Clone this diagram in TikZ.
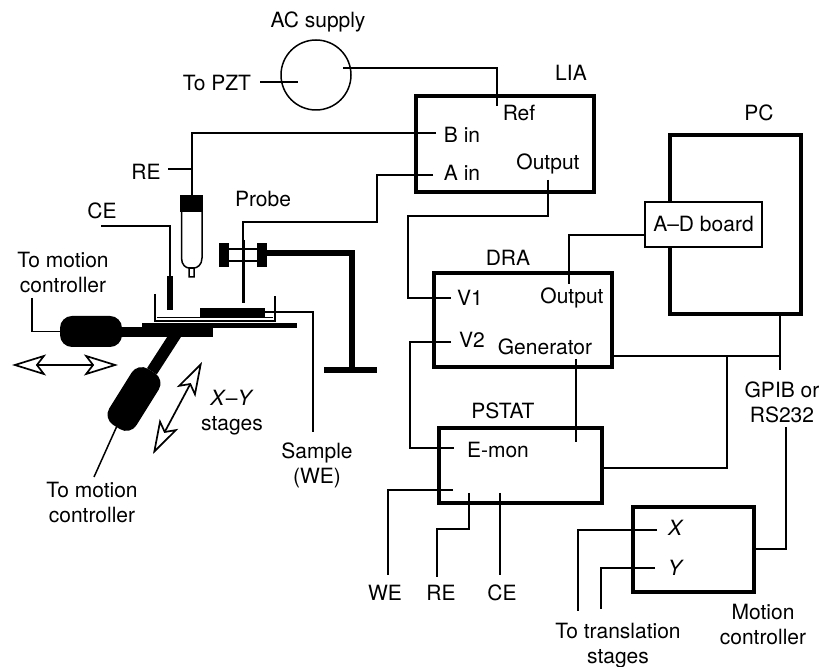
\documentclass[tikz,border=0pt]{standalone}
\usepackage{fontspec}
\setmainfont{TeX Gyre Heros}
\usetikzlibrary{arrows.meta}
\tikzset{
  lab/.style={inner sep=0pt,align=center,font=\fontsize{10.5}{12.5}\selectfont},
  unitbox/.style={draw,line width=2pt,inner sep=0pt,outer sep=0pt},
  wire/.style={line width=0.75pt},
  blk/.style={fill=black,inner sep=0pt,outer sep=0pt},
  motor/.style={blk,rounded corners=6pt,minimum width=31pt,minimum height=15.5pt},
  dblarrow/.style={line width=0.85pt,{Stealth[fill=white,length=17pt,width=10.5pt,inset=4pt]}-{Stealth[fill=white,length=17pt,width=10.5pt,inset=4pt]}},
}
\begin{document}
\begin{tikzpicture}[x=0.5pt,y=-0.5pt]
  \useasboundingbox (0,0) rectangle (821,667);
  % instrument boxes
  \node[unitbox,minimum width=89pt,minimum height=48pt] (lia) at (505,144) {};
  \node[unitbox,minimum width=65.5pt,minimum height=89.5pt] (pc) at (735.5,224.5) {};
  \node[unitbox,minimum width=89pt,minimum height=47pt] (dra) at (523,320) {};
  \node[unitbox,minimum width=81.5pt,minimum height=37.5pt] (pstat) at (520.5,465.5) {};
  \node[unitbox,minimum width=60.5pt,minimum height=42.5pt] (mc) at (693.5,549.5) {};
  \node[draw,wire,fill=white,lab,outer sep=0pt,minimum width=58.5pt,minimum height=22.5pt] (adboard) at (703.5,224.5) {A--D board};
  \node[draw,wire,circle,inner sep=0pt,outer sep=0pt,minimum size=35pt] (ac) at (316,75) {};
  % ports and free ends
  \foreach \n/\x/\y in {acout/343/68,refin/497/106,pztin/298/82,pztend/260/82,
      bin/436/133,bknee/192/133,rejoin/192/169,restub/168/169,
      ain/433/175,probetop/243/240,probetip/243/303,
      liaout/548/180,v1in/451/298,adin/645/235,adout/569/284,v2in/451/342,emon/454/448,
      genin/576/442,genout/576/359,drabus/612/356,busjoin/727/356,pcbus/780/356,pcend/780/370,
      pstatbus/602/468,rsend/786/427,mcbus/754/549,weport/453/490,weend/388/575,
      report/469/493,reend/437/577,ceport/500/493,ceend/500/575,
      xport/657/530,xend/578/611,yport/655/568,yend/601/609,
      cestart/101/226,ceknee/170/276,mwa/32/298,mwb/94/477,sampout/265/312,
      sampend/313/432,xla/12/365,xlb/118/365,yla/202/362,ylb/153/454,
      capbot/192/195,barstart/267/253,barend/352/370}
    \coordinate (\n) at (\x,\y);
  % wiring of the instruments
  \draw[wire] (pztend) -- (pztin);
  \draw[wire] (acout) -| (refin);
  \draw[wire] (bin) -- (bknee) -- (capbot);
  \draw[wire] (restub) -- (rejoin);
  \draw[wire] (ain) -- (377,175) -- (377,222) -- (243,222) -- (probetop);
  \draw[wire] (liaout) -- (548,216) -- (408,216) -- (408,298) -- (v1in);
  \draw[wire] (adin) -| (adout);
  \draw[wire] (v2in) -- (410,342) -- (410,448) -- (emon);
  \draw[wire] (genout) -- (genin);
  \draw[wire] (drabus) -- (pcbus);
  \draw[wire] (pc.south -| pcbus) -- (pcend);
  \draw[wire] (busjoin) |- (pstatbus);
  \draw[wire] (rsend) |- (mcbus);
  \draw[wire] (weport) -- (388,490) -- (weend);
  \draw[wire] (report) -- (469,529) -- (437,529) -- (reend);
  \draw[wire] (ceport) -- (ceend);
  \draw[wire] (xport) -- (578,530) -- (xend);
  \draw[wire] (yport) -- (601,568) -- (yend);
  % reference electrode
  \node[blk,minimum width=11.5pt,minimum height=8.5pt] (recap) at (191.5,203.5) {};
  \draw[wire] (181.5,212) -- (181.5,258) .. controls (181.5,265) and (186,268) .. (189,268)
    -- (189,277) -- (194,277) -- (194,268) .. controls (197,268) and (202,265) .. (202,258) -- (202,212);
  \draw[wire] (189,268) -- (194,268);
  % counter electrode
  \draw[wire] (cestart) -- (170,226) -- (ceknee);
  \node[blk,minimum width=2.8pt,minimum height=17pt] (cerod) at (170,293) {};
  % cell, sample and stages
  \draw[line width=1.3pt] (155,294) -- (155,321) -- (275,321) -- (275,296);
  \draw[line width=0.5pt] (157,318) -- (273,318);
  \node[blk,minimum width=32.5pt,minimum height=4.5pt] (sample) at (232.5,312.5) {};
  \draw[wire] (sampout) -- (313,312) -- (sampend);
  \node[blk,minimum width=77.5pt,minimum height=2.8pt] (plateup) at (219.5,325.5) {};
  \node[blk,minimum width=46.5pt,minimum height=5pt] (platelow) at (166.5,332) {};
  \node[motor] (motora) at (91,331.5) {};
  \node[motor,rotate=58,minimum height=16pt,minimum width=33pt] (motorb) at (134,399) {};
  \draw[line width=5.5pt] (motora.east) -- (platelow.west);
  \draw[line width=5.8pt] (176,334) -- (motorb);
  \draw[wire] (mwa) |- (motora.west);
  \draw[wire] (motorb.west) -- (mwb);
  % motion arrows
  \draw[dblarrow] (xla) -- (xlb);
  \draw[dblarrow] (yla) -- (ylb);
  % probe and its holder
  \draw[line width=1.5pt] (probetop) -- (probetip);
  \node[blk,minimum width=5pt,minimum height=12pt] (clampl) at (224,255) {};
  \node[blk,minimum width=5pt,minimum height=12pt] (clampr) at (262,255) {};
  \draw[wire] (clampl.east |- 0,249) -- (clampr.west |- 0,249);
  \draw[wire] (clampl.east |- 0,261) -- (clampr.west |- 0,261);
  \draw[line width=2.8pt] (barstart) -- (352,253) -- (barend);
  \node[blk,minimum width=26.5pt,minimum height=3.2pt] (holderbase) at (350.5,370) {};
  % labels
  \node[lab] (acl) at (318,22) {AC supply};
  \node[lab] (pztl) at (217,83) {To PZT};
  \node[lab] (rel) at (146,172) {RE};
  \node[lab] (probel) at (263,199) {Probe};
  \node[lab] (cel) at (102,211) {CE};
  \node[lab] (mcal) at (63,273) {To motion\\controller};
  \node[lab] (xyl) at (232,413) {\textit{X}--\textit{Y}\\stages};
  \node[lab] (samplel) at (317,465) {Sample\\(WE)};
  \node[lab] (mcbl) at (92,503) {To motion\\controller};
  \node[lab] (lial) at (571,73) {LIA};
  \node[lab] (refl) at (519,113) {Ref};
  \node[lab] (binl) at (462,135) {B in};
  \node[lab] (ainl) at (462,173) {A in};
  \node[lab] (outl) at (548,164) {Output};
  \node[lab] (pcl) at (759,113) {PC};
  \node[lab] (dral) at (508,258) {DRA};
  \node[lab] (voa) at (470,298) {V1};
  \node[lab] (outb) at (572,298) {Output};
  \node[lab] (vob) at (472,340) {V2};
  \node[lab] (genl) at (545,347) {Generator};
  \node[lab] (pstatl) at (503,411) {PSTAT};
  \node[lab] (emonl) at (498,450) {E-mon};
  \node[lab] (gpibl) at (782,402) {GPIB or\\RS232};
  \node[lab] (wel) at (385,593) {WE};
  \node[lab] (repl) at (441,593) {RE};
  \node[lab] (cepl) at (502,593) {CE};
  \node[lab] (xl) at (676,528) {\textit{X}};
  \node[lab] (yl) at (676,568) {\textit{Y}};
  \node[lab] (transl) at (618,646) {To translation\\stages};
  \node[lab] (mctl) at (763,625) {Motion\\controller};
\end{tikzpicture}
\end{document}
